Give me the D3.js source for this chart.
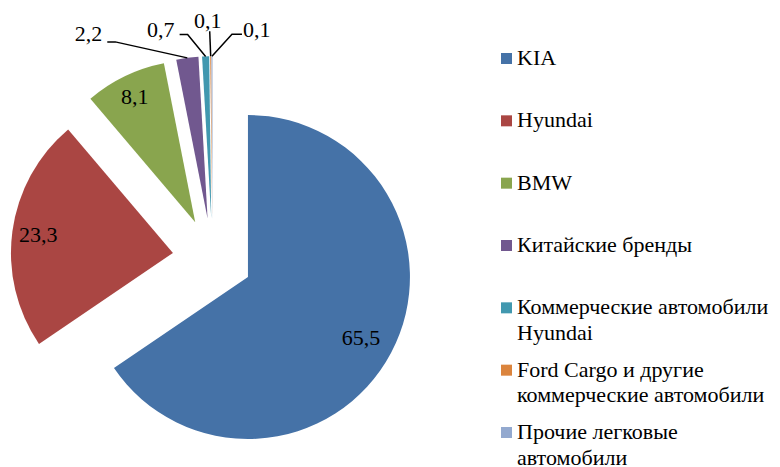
<!DOCTYPE html>
<html>
<head>
<meta charset="utf-8">
<script src="https://cdn.jsdelivr.net/npm/d3@7"></script>
<style>
  body { margin: 0; background: #fff; }
</style>
</head>
<body>
<div id="canvas"></div>
<script>
const width = 780
const height = 467
const fontFamily = '"Liberation Serif", serif'
const fontSize = 22

// data
const brands = ['KIA', 'Hyundai', 'BMW', 'Китайские бренды', 'Коммерческие автомобили Hyundai',
	'Ford Cargo и другие коммерческие автомобили', 'Прочие легковые автомобили']
const shares = [65.5, 23.3, 8.1, 2.2, 0.7, 0.1, 0.1]
const legendLines = [['KIA'], ['Hyundai'], ['BMW'], ['Китайские бренды'],
	['Коммерческие автомобили', 'Hyundai'], ['Ford Cargo и другие', 'коммерческие автомобили'],
	['Прочие легковые', 'автомобили']]
const colors = ['#4572A7', '#AA4643', '#89A54E', '#71588F', '#4198AF', '#DB843D', '#93A9CF']

// layout
const cx = 212.6
const cy = 258.3
const radius = 162
const explode = 40
const insideLabelR = [0.79, 0.84, 0.86]
// hand placed outside labels (offsets from the slice's outer point)
const outsideLabels = [
	null, null, null,
	{dx: -80, dy: -16, elbow: 8, anchor: 'end', tx: -5, ty: -1},
	{dx: -26, dy: -22, elbow: 8, anchor: 'end', tx: -5, ty: 3},
	{dx: -1, dy: -25, elbow: 0, anchor: 'middle', tx: -2, ty: -3},
	{dx: 30, dy: -22, elbow: -10, anchor: 'start', tx: 1, ty: 3}
]

const fmt = v => String(v).replace('.', ',')

const svg = d3.select('#canvas')
	.append('svg')
	.attr('width', width)
	.attr('height', height);

svg.append('rect')
	.attr('width', width)
	.attr('height', height)
	.attr('fill', '#fff');

const pie = d3.pie().sort(null).value(d => d);
const arcs = pie(shares);
const arc = d3.arc().innerRadius(0).outerRadius(radius);

const mid = d => (d.startAngle + d.endAngle) / 2;
const offset = d => [explode * Math.sin(mid(d)), -explode * Math.cos(mid(d))];

const graph = svg.append('g')
	.attr('transform', `translate(${cx}, ${cy})`);

const slices = graph.selectAll('g.slice')
	.data(arcs)
	.enter()
	.append('g')
		.attr('class', 'slice')
		.attr('transform', d => `translate(${offset(d)[0]}, ${offset(d)[1]})`);

slices.append('path')
	.attr('d', arc)
	.attr('fill', (d, i) => colors[i]);

// labels inside the big slices
slices.filter((d, i) => i < 3)
	.append('text')
	.attr('x', (d, i) => insideLabelR[i] * radius * Math.sin(mid(d)))
	.attr('y', (d, i) => -insideLabelR[i] * radius * Math.cos(mid(d)))
	.attr('dy', '0.35em')
	.attr('text-anchor', 'middle')
	.attr('font-family', fontFamily)
	.attr('font-size', fontSize)
	.text(d => fmt(d.data));

// leader lines + labels for the thin slices
slices.each(function (d, i) {
	const lab = outsideLabels[i];
	if (!lab) return;
	const g = d3.select(this);
	const ox = radius * Math.sin(mid(d));
	const oy = -radius * Math.cos(mid(d));
	const ex = ox + lab.dx;
	const ey = oy + lab.dy;
	g.append('polyline')
		.attr('points', [[ox, oy], [ex + lab.elbow, ey], [ex, ey]].map(p => p.join(',')).join(' '))
		.attr('fill', 'none')
		.attr('stroke', '#000')
		.attr('stroke-width', 1.5);
	g.append('text')
		.attr('x', ex + lab.tx)
		.attr('y', ey + lab.ty)
		.attr('text-anchor', lab.anchor)
		.attr('font-family', fontFamily)
		.attr('font-size', fontSize)
		.text(fmt(d.data));
});

// legend
const ly = d3.scalePoint()
	.domain(brands)
	.range([65, 439]);

const legend = svg.append('g')
	.attr('transform', 'translate(501, 0)');

const items = legend.selectAll('g')
	.data(brands)
	.enter()
	.append('g')
		.attr('transform', d => `translate(0, ${ly(d)})`);

items.append('rect')
	.attr('y', -12)
	.attr('width', 11)
	.attr('height', 11)
	.attr('fill', (d, i) => colors[i]);

items.append('text')
	.attr('x', 16)
	.attr('font-family', fontFamily)
	.attr('font-size', fontSize)
	.selectAll('tspan')
	.data((d, i) => legendLines[i])
	.enter()
	.append('tspan')
		.attr('x', 16)
		.attr('dy', (d, j) => j === 0 ? 0 : 25.5)
		.text(d => d);
</script>
</body>
</html>
